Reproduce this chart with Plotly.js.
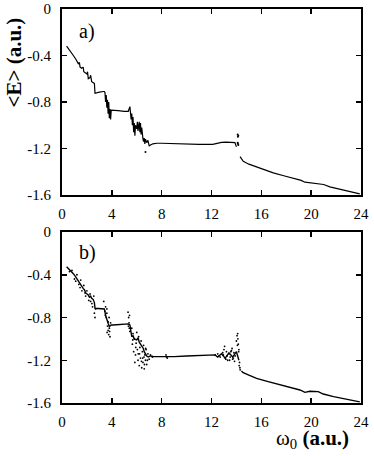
<!DOCTYPE html>
<html>
<head>
<meta charset="utf-8">
<script src="https://cdn.plot.ly/plotly-3.0.1.min.js"></script>
<style>
  html, body { margin: 0; padding: 0; background: #fff; }
  #chart { width: 374px; height: 456px; }
</style>
</head>
<body>
<div id="chart"></div>
<script>
// axis ticks
let xTicks = [0, 4, 8, 12, 16, 20, 24];
let xTickText = ['0', '4', '8', '12', '16', '20', '24'];
let yTicks = [0, -0.4, -0.8, -1.2, -1.6];
let yTickText = ['0', '-0.4', '-0.8', '-1.2', '-1.6'];

// panel a) main curve (null = gap near 14)
let aX = [0.37, 0.6, 0.91, 1.1, 1.31, 1.4, 1.45, 1.58, 1.7, 1.75, 1.85, 2.0, 2.05, 2.11, 2.25, 2.3, 2.38, 2.5, 2.6, 2.65, 2.8, 3.0, 3.32, 3.4,
          3.45, 3.5, 3.55, 3.6, 3.65, 3.7, 3.75, 3.8, 3.85, 3.9, 3.95, 4.0, 4.5, 5.0, 5.32, 5.45,
          5.5, 5.55, 5.6, 5.65, 5.7, 5.75, 5.8, 5.85, 5.9, 6.0, 6.05, 6.1, 6.2, 6.25, 6.3, 6.35, 6.4, 6.45, 6.5, 6.55, 6.6, 6.65, 6.7, 6.8, 6.9, 7.0, 7.1, 7.3, 7.6,
          8.0, 9.0, 10.0, 11.0, 12.1, 12.5, 12.8, 13.2, 13.5, 13.88, 14.0,
          null,
          14.29, 14.55, 15.0, 15.62, 16.3, 16.96, 17.8, 18.57, 19.2, 19.5, 20.0, 20.57, 21.0, 21.5, 22.5, 23.9];
let aY = [-0.32, -0.35, -0.40, -0.43, -0.47, -0.46, -0.50, -0.51, -0.50, -0.54, -0.55, -0.56, -0.54, -0.60, -0.59, -0.57, -0.625, -0.63, -0.64, -0.725, -0.72, -0.715, -0.71, -0.71,
          -0.72, -0.80, -0.74, -0.85, -0.78, -0.90, -0.80, -0.94, -0.86, -0.95, -0.87, -0.87, -0.875, -0.88, -0.88, -0.84,
          -0.88, -0.95, -0.90, -1.00, -0.93, -1.06, -0.98, -1.09, -1.00, -1.03, -0.97, -1.05, -0.97, -1.06, -0.98, -1.08, -1.02, -1.10, -1.12, -1.14, -1.11, -1.16, -1.12, -1.15, -1.13, -1.18, -1.17, -1.16, -1.155,
          -1.155, -1.16, -1.162, -1.164, -1.164, -1.155, -1.147, -1.145, -1.15, -1.15, -1.185,
          null,
          -1.27, -1.31, -1.335, -1.36, -1.385, -1.41, -1.435, -1.456, -1.475, -1.49, -1.495, -1.50, -1.51, -1.53, -1.555, -1.59];

// panel a) isolated dots
let aDotX = [6.7, 14.1, 14.12, 14.15, 14.1, 14.15, 14.12];
let aDotY = [-1.23, -1.08, -1.10, -1.09, -1.15, -1.17, -1.16];

// panel b) main curve
let bX = [0.37, 0.6, 0.91, 1.1, 1.2, 1.3, 1.44, 1.55, 1.71, 1.8, 1.9, 2.11, 2.2, 2.3, 2.38, 2.5, 2.6, 2.65, 2.8, 3.0, 3.32, 3.4,
          3.5, 3.58, 3.65, 3.72, 3.8, 3.85, 3.95, 4.1, 4.6, 5.0, 5.32, 5.45,
          5.6, 5.7, 5.8, 6.0, 6.1, 6.2, 6.3, 6.4, 6.53, 6.6, 6.7, 6.8, 6.93, 7.1, 7.33, 7.86,
          8.4, 9.0, 10.0, 11.0, 12.28, 12.5, 12.8, 13.1, 13.4, 13.7, 14.0, 14.2,
          null,
          14.4, 14.55, 15.0, 15.62, 16.4, 17.23, 18.2, 19.1, 19.5, 19.9, 20.57, 20.97, 21.8, 22.8, 23.9];
let bY = [-0.325, -0.35, -0.39, -0.42, -0.44, -0.46, -0.48, -0.50, -0.53, -0.54, -0.57, -0.59, -0.61, -0.60, -0.62, -0.63, -0.66, -0.714, -0.715, -0.714, -0.714, -0.72,
          -0.78, -0.82, -0.84, -0.86, -0.885, -0.88, -0.87, -0.87, -0.865, -0.86, -0.86, -0.87,
          -0.98, -0.97, -1.0, -1.01, -0.99, -1.03, -1.05, -1.07, -1.09, -1.12, -1.14, -1.16, -1.17, -1.16, -1.165, -1.167,
          -1.167, -1.166, -1.16, -1.158, -1.15, -1.17, -1.14, -1.18, -1.13, -1.17, -1.12, -1.2,
          null,
          -1.30, -1.316, -1.34, -1.37, -1.395, -1.42, -1.45, -1.478, -1.50, -1.49, -1.494, -1.516, -1.54, -1.565, -1.59];

// panel b) scattered dots
let bDotX = [0.8, 1.0, 1.2, 1.35, 1.5, 1.6, 1.75, 1.9, 2.0, 2.15, 2.25, 2.4, 2.55, 2.6, 2.65, 2.7, 0.6, 1.1, 1.45, 1.85, 2.3, 2.45,
             3.35, 3.45, 3.5, 3.55, 3.6, 3.65, 3.7, 3.75, 3.8, 3.85, 3.9, 3.7, 3.6, 3.78, 3.48, 3.62, 3.82,
             5.3, 5.35, 5.4, 5.45, 5.38, 5.42, 5.33,
             5.6, 5.65, 5.7, 5.75, 5.8, 5.9, 6.0, 6.05, 6.1, 6.15, 6.2, 6.25, 6.3, 6.35, 6.4, 6.45, 6.5, 6.55, 6.6, 6.65, 6.7, 6.75, 6.8, 6.9, 7.0, 5.85, 5.95, 6.22, 6.48, 6.62, 6.72,
             5.68, 5.92, 6.12, 6.38, 6.58, 6.85, 7.1, 7.25,
             8.35, 8.45, 8.4,
             12.3, 12.5, 12.7, 12.9, 13.0, 13.1, 13.2, 13.3, 13.4, 13.5, 13.6, 13.7, 13.8, 13.9, 14.0, 14.05, 14.1, 14.15, 14.2, 14.25, 14.3, 13.05, 13.25, 13.45, 13.65, 13.85, 14.12, 14.18, 14.22, 14.28,
             12.6, 12.95, 13.15, 13.55, 13.75, 14.08];
let bDotY = [-0.36, -0.44, -0.40, -0.49, -0.45, -0.55, -0.50, -0.60, -0.55, -0.64, -0.58, -0.67, -0.60, -0.76, -0.80, -0.72, -0.37, -0.46, -0.52, -0.57, -0.65, -0.70,
             -0.65, -0.74, -0.70, -0.80, -0.76, -0.88, -0.84, -0.96, -0.90, -0.98, -0.85, -0.92, -0.72, -0.80, -0.78, -0.94, -0.93,
             -0.75, -0.80, -0.90, -0.93, -0.85, -0.78, -0.88,
             -0.90, -1.05, -0.95, -1.12, -1.00, -1.15, -0.94, -1.10, -1.20, -0.98, -1.25, -1.08, -1.18, -1.02, -1.27, -1.12, -1.22, -1.06, -1.28, -1.15, -1.20, -1.10, -1.24, -1.14, -1.19, -1.22, -1.04, -1.14, -1.18, -1.24, -1.09,
             -1.01, -1.08, -1.14, -1.21, -1.17, -1.20, -1.15, -1.17,
             -1.15, -1.18, -1.17,
             -1.15, -1.14, -1.17, -1.13, -1.10, -1.18, -1.12, -1.20, -1.14, -1.17, -1.11, -1.19, -1.13, -1.16, -1.02, -0.97, -0.95, -1.05, -1.10, -1.22, -1.29, -1.07, -1.16, -1.20, -1.09, -1.21, -1.00, -1.12, -1.25, -1.27,
             -1.16, -1.15, -1.19, -1.12, -1.18, -1.06];

let serif = 'Liberation Serif, Times New Roman, serif';

let data = [
    {x: aX, y: aY, xaxis: 'x', yaxis: 'y', mode: 'lines', line: {color: '#000', width: 1.2}, connectgaps: false},
    {x: aDotX, y: aDotY, xaxis: 'x', yaxis: 'y', mode: 'markers', marker: {color: '#000', size: 2}},
    {x: bX, y: bY, xaxis: 'x2', yaxis: 'y2', mode: 'lines', line: {color: '#000', width: 1.4}, connectgaps: false},
    {x: bDotX, y: bDotY, xaxis: 'x2', yaxis: 'y2', mode: 'markers', marker: {color: '#000', size: 1.8}}
];

function xAxis(anchor) {
    return {
        range: [0, 24], tickvals: xTicks, ticktext: xTickText,
        ticks: 'inside', ticklen: 5, tickwidth: 1.5, tickcolor: '#000',
        showline: true, linewidth: 2, linecolor: '#000', mirror: 'ticks',
        showgrid: false, zeroline: false, anchor: anchor,
        ticklabelstandoff: 4,
        tickfont: {family: serif, size: 15, color: '#000'}
    };
}
function yAxis(anchor, domain) {
    return {
        range: [-1.6, 0], tickvals: yTicks, ticktext: yTickText, domain: domain,
        ticks: 'inside', ticklen: 5, tickwidth: 1.5, tickcolor: '#000',
        showline: true, linewidth: 2, linecolor: '#000', mirror: 'ticks',
        showgrid: false, zeroline: false, anchor: anchor,
        ticklabelstandoff: 6,
        tickfont: {family: serif, size: 15, color: '#000'}
    };
}

let layout = {
    width: 374, height: 456,
    margin: {l: 62, r: 13, t: 9, b: 53},
    paper_bgcolor: '#fff', plot_bgcolor: '#fff',
    showlegend: false,
    font: {family: serif, color: '#000'},
    xaxis: xAxis('y'),
    yaxis: yAxis('x', [0.528, 1]),
    xaxis2: xAxis('y2'),
    yaxis2: yAxis('x2', [0, 0.434]),
    annotations: [
        {text: 'a)', xref: 'x', yref: 'y', x: 1.2, y: -0.19, showarrow: false, xanchor: 'left',
         font: {family: serif, size: 20, color: '#000'}},
        {text: 'b)', xref: 'x2', yref: 'y2', x: 1.2, y: -0.19, showarrow: false, xanchor: 'left',
         font: {family: serif, size: 20, color: '#000'}},
        {text: '<b>&lt;E&gt; (a.u.)</b>', xref: 'paper', yref: 'paper', x: -0.162, y: 0.863,
         xanchor: 'center', yanchor: 'middle', textangle: -90,
         showarrow: false, font: {family: serif, size: 21, color: '#000'}},
        {text: 'ω<sub>0</sub> <b>(a.u.)</b>', xref: 'paper', yref: 'paper', x: 0.967, y: -0.13,
         xanchor: 'right', yanchor: 'bottom', showarrow: false, font: {family: serif, size: 21, color: '#000'}}
    ]
};

Plotly.newPlot('chart', data, layout, {displayModeBar: false, staticPlot: true});
</script>
</body>
</html>
